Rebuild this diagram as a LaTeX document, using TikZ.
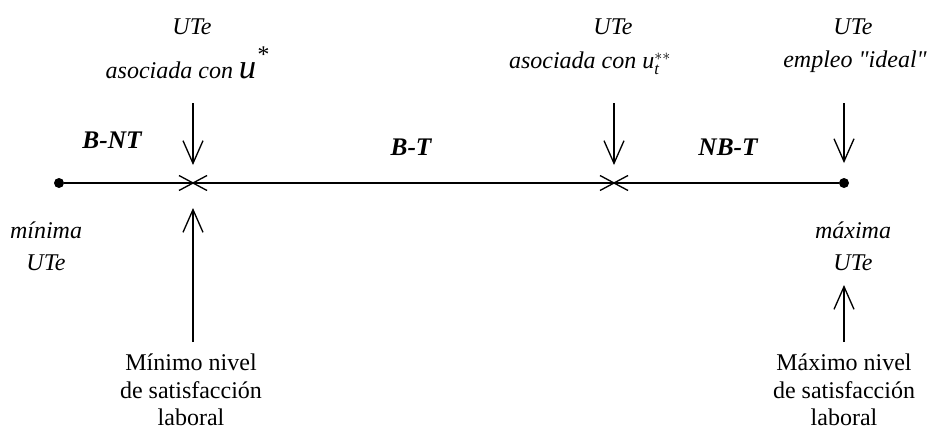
\documentclass[tikz,border=0pt]{standalone}
\usepackage{fontspec}
\setmainfont{Liberation Serif}[Ligatures=TeXOff]
\usetikzlibrary{arrows.meta,calc}
\begin{document}
\begin{tikzpicture}[x=0.75pt,y=-0.75pt,
  txt/.style={font=\fontsize{18pt}{20.5pt}\selectfont, align=center, inner sep=0pt},
  itl/.style={font=\fontsize{18pt}{24pt}\selectfont\itshape, align=center, inner sep=0pt},
  seg/.style={font=\fontsize{19pt}{22pt}\selectfont\bfseries\itshape, inner sep=0pt},
  ln/.style={line width=1pt},
  arr/.style={-{Straight Barb[length=17pt,width=15pt,line width=1pt]}, line width=1pt},
  dotnode/.style={circle, fill, inner sep=0pt, minimum size=7.5pt}]
\useasboundingbox (0,0) rectangle (930,432);
% main axis
\node[dotnode] (L) at (59,183) {};
\node[dotnode] (R) at (844,183) {};
\coordinate (cA) at (193,183);
\coordinate (cB) at (614,183);
\draw[ln] (L) -- (R);
\draw[ln] ($(cA)+(-14,-7.5)$) -- ($(cA)+(14,7.5)$) ($(cA)+(-14,7.5)$) -- ($(cA)+(14,-7.5)$);
\draw[ln] ($(cB)+(-14,-7.5)$) -- ($(cB)+(14,7.5)$) ($(cB)+(-14,7.5)$) -- ($(cB)+(14,-7.5)$);
% top labels
\node[itl] (ute1) at (192,27) {UTe};
\node[itl] (aso1) at (187,63) {asociada con {\fontsize{26pt}{26pt}\selectfont u}\raisebox{12pt}{*}};
\node[itl] (ute2) at (613,27) {UTe};
\node[itl] (aso2) at (590,63) {asociada con $\mathit{u}_{\mathit{t}}^{**}$};
\node[itl] (ute3) at (853,27) {UTe};
\node[itl] (emp) at (855,62) {empleo "ideal"};
% segment labels
\node[seg] (bnt) at (112,140) {B-NT};
\node[seg] (bt) at (411,147) {B-T};
\node[seg] (nbt) at (728,147) {NB-T};
% side labels
\node[itl] (minU) at (46,246) {mínima\\UTe};
\node[itl] (maxU) at (853,246) {máxima\\UTe};
% bottom labels
\node[txt] (minS) at (191,390) {Mínimo nivel\\de satisfacción\\laboral};
\node[txt] (maxS) at (844,390) {Máximo nivel\\de satisfacción\\laboral};
% arrows
\coordinate (d1) at (193,103);
\coordinate (d2) at (614,103);
\coordinate (d3) at (844,103);
\coordinate (b1) at (193,342);
\coordinate (b3) at (844,342);
\coordinate (t3) at (844,285);
\draw[arr, shorten >=13.5pt] (d1) -- (cA);
\draw[arr, shorten >=13.5pt] (d2) -- (cB);
\draw[arr, shorten >=11pt] (d3) -- (R);
\draw[arr, shorten >=18.75pt] (b1) -- (cA);
\draw[arr] (b3) -- (t3);
\end{tikzpicture}
\end{document}
